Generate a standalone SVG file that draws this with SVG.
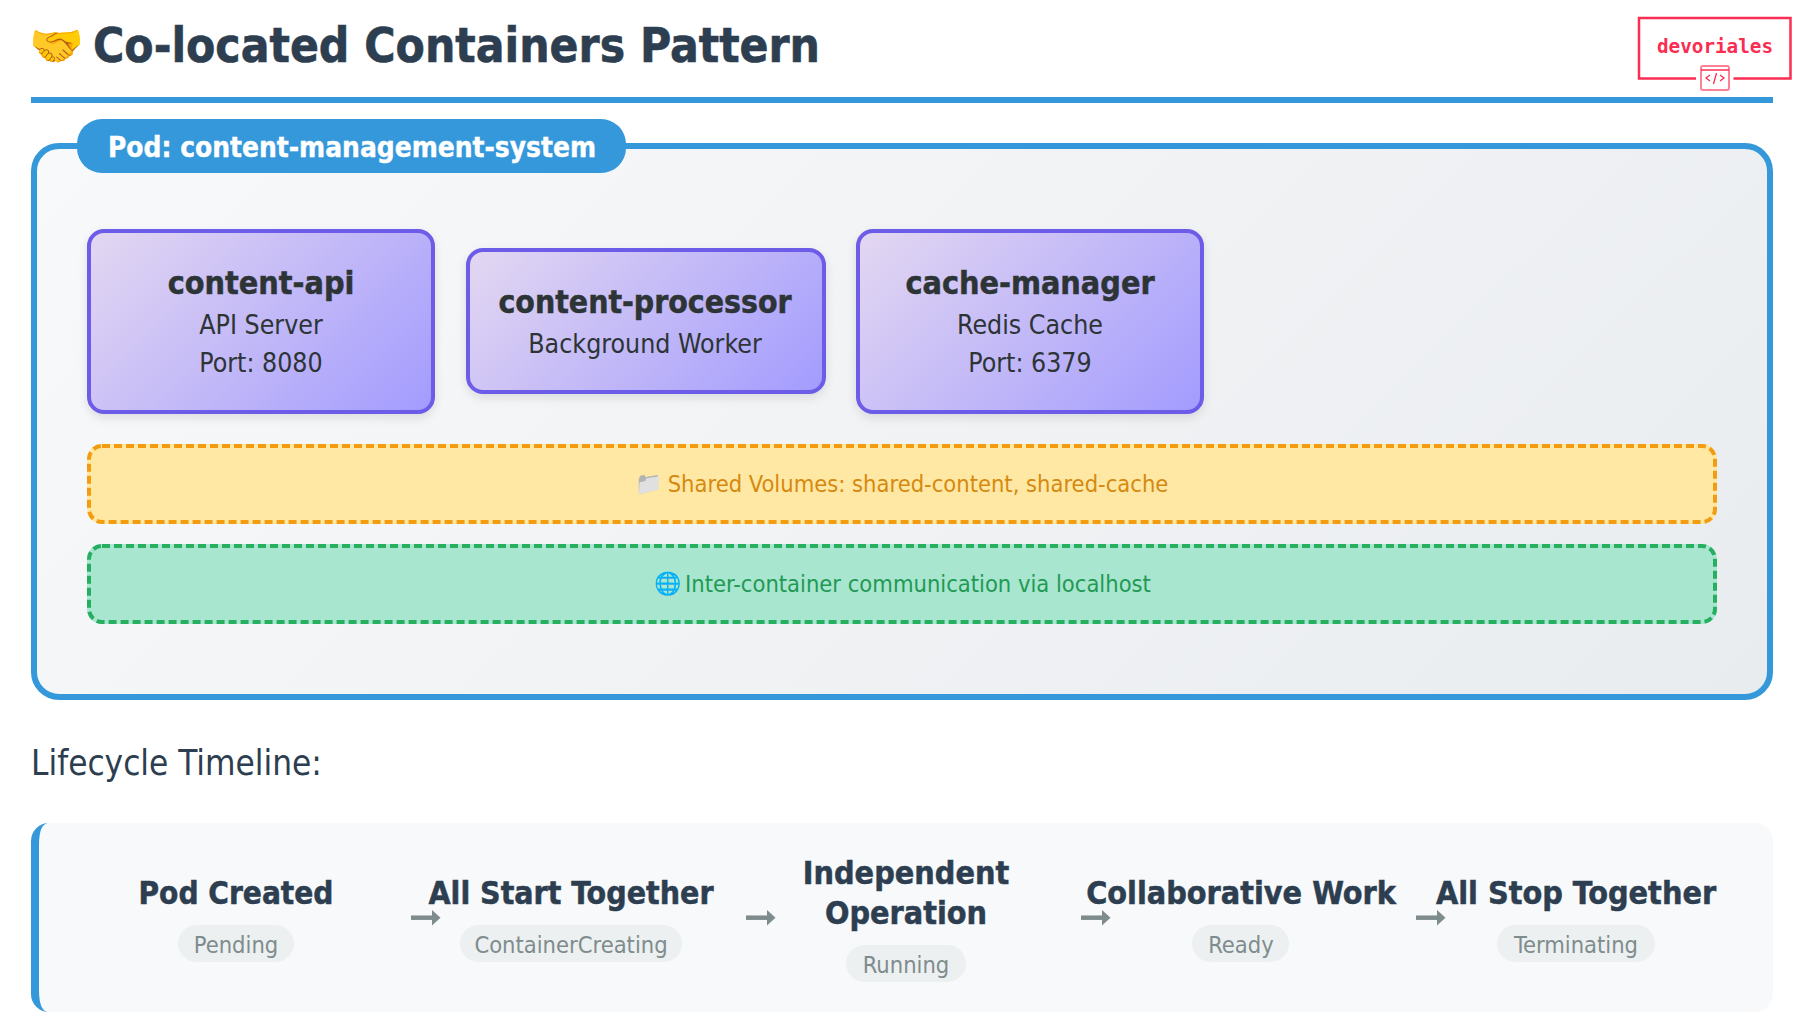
<svg xmlns="http://www.w3.org/2000/svg" width="1810" height="1034" viewBox="0 0 1810 1034">
<style>
text{font-family:"DejaVu Sans",Verdana,sans-serif;text-anchor:middle;font-stretch:condensed}
.c{stroke:#6c5ce7;stroke-width:4;filter:url(#sh)}
.n{font-size:32px;font-weight:700;fill:#2d3436;stroke:#2d3436;stroke-width:.5px}
.s{font-size:26.500px;fill:#2d3436}
.t{font-size:32px;font-weight:700;fill:#2c3e50;stroke:#2c3e50;stroke-width:.5px}
.p{fill:#ecf0f1}
.pt{font-size:23.500px;fill:#7f8c8d}
.e{font-family:"Noto Color Emoji",sans-serif;font-size:22px;text-anchor:start}
.d{fill:none;stroke-width:4;stroke-dasharray:8 4}
.l{fill:none;stroke:#7f8c8d;stroke-width:4.500;marker-end:url(#ah)}
</style>
<defs>
<linearGradient id="pg" gradientUnits="userSpaceOnUse" x1="327.500" y1="-153.500" x2="1476.500" y2="995.500"><stop offset="0" stop-color="#f8f9fa"/><stop offset="1" stop-color="#e9ecef"/></linearGradient>
<linearGradient id="cg1" gradientUnits="userSpaceOnUse" x1="128" y1="188" x2="394" y2="454"><stop offset="0" stop-color="#e4d8f1"/><stop offset="1" stop-color="#a29bfe"/></linearGradient>
<linearGradient id="cg2" gradientUnits="userSpaceOnUse" href="#cg1" x1="520" y1="194.500" x2="772" y2="446.500"/>
<linearGradient id="cg3" gradientUnits="userSpaceOnUse" href="#cg1" x1="897" y1="188" x2="1163" y2="454"/>
<filter id="sh" x="-10%" y="-10%" width="120%" height="125%"><feDropShadow dx="0" dy="4" stdDeviation="5" flood-color="#000" flood-opacity=".1"/></filter>
<marker id="ah" markerUnits="userSpaceOnUse" markerWidth="9" markerHeight="16" refX="0" refY="8" orient="auto"><path d="M0 .3L8.500 8L0 15.700Z" fill="#7f8c8d"/></marker>
</defs>
<rect width="1810" height="1034" fill="#fff"/>
<g id="header">
<text x="29" y="61" font-size="44" style="text-anchor:start;font-family:'Noto Color Emoji',sans-serif">🤝</text>
<text x="93" y="62" font-size="48" font-weight="700" fill="#2c3e50" stroke="#2c3e50" stroke-width=".6" textLength="727" lengthAdjust="spacingAndGlyphs" style="text-anchor:start">Co-located Containers Pattern</text>
<rect x="31" y="97" width="1742" height="6" fill="#3498db"/>
</g>
<g id="logo" fill="none" stroke="#fb2d52">
<path d="M1696 78.500H1639V18H1790.500V78.500H1733.500" stroke-width="2.500"/>
<rect x="1701" y="66" width="28" height="24" rx="2" stroke-opacity=".6" stroke-width="2"/>
<path d="M1701 70H1729" stroke-width="1.500"/>
<path d="M1710 75l-4 3 4 3M1720 75l4 3-4 3M1716.500 73l-3 11" stroke-width="1.300"/>
<text x="1715" y="53" font-size="19.300" font-weight="700" fill="#fb2d52" stroke="none" style="font-family:'DejaVu Sans Mono',monospace;font-stretch:normal">devoriales</text>
</g>
<g id="pod">
<rect x="34" y="146" width="1736" height="551" rx="25" fill="url(#pg)" stroke="#3498db" stroke-width="6"/>
<rect x="77" y="119" width="549" height="54" rx="25" fill="#3498db"/>
<text x="352" y="157" font-size="28" font-weight="700" fill="#fff" stroke="#fff" stroke-width=".4" textLength="488" lengthAdjust="spacingAndGlyphs">Pod: content-management-system</text>
</g>
<g id="content-api">
<rect class="c" fill="url(#cg1)" x="89" y="231" width="344" height="181" rx="15"/>
<text class="n" x="261" y="294">content-api</text><text class="s" x="261" y="334">API Server</text><text class="s" x="261" y="372">Port: 8080</text>
</g>
<g id="content-processor">
<rect class="c" fill="url(#cg2)" x="468" y="250" width="356" height="142" rx="15"/>
<text class="n" x="645" y="313" textLength="293" lengthAdjust="spacingAndGlyphs">content-processor</text><text class="s" x="645" y="353">Background Worker</text>
</g>
<g id="cache-manager">
<rect class="c" fill="url(#cg3)" x="858" y="231" width="344" height="181" rx="15"/>
<text class="n" x="1030" y="294">cache-manager</text><text class="s" x="1030" y="334">Redis Cache</text><text class="s" x="1030" y="372">Port: 6379</text>
</g>
<g id="shared-volumes">
<rect x="87" y="444" width="1630" height="80" rx="15" fill="#ffe8a3"/>
<rect class="d" x="89" y="446" width="1626" height="76" rx="13" stroke="#f39c12"/>
<text class="e" x="635" y="491" style="filter:grayscale(1)">📁</text>
<text x="918" y="491.500" font-size="23.500" fill="#d68910">Shared Volumes: shared-content, shared-cache</text>
</g>
<g id="localhost">
<rect x="87" y="544" width="1630" height="80" rx="15" fill="#a8e6cf"/>
<rect class="d" x="89" y="546" width="1626" height="76" rx="13" stroke="#27ae60"/>
<text class="e" x="654" y="591">🌐</text>
<text x="918" y="591.500" font-size="23.500" fill="#229954">Inter-container communication via localhost</text>
</g>
<text x="31" y="775" font-size="34.800" fill="#2c3e50" style="text-anchor:start">Lifecycle Timeline:</text>
<g id="timeline">
<rect x="31" y="823" width="1742" height="189" rx="18" fill="#f8f9fa"/>
<path d="M49 823A18 18 0 0 0 31 841V994A18 18 0 0 0 49 1012Q39 1012 39 990V845Q39 823 49 823Z" fill="#3498db"/>
</g>
<g id="step-1"><text class="t" x="236" y="904" textLength="195" lengthAdjust="spacingAndGlyphs">Pod Created</text><rect class="p" x="178" y="925" width="116" height="37" rx="18.500"/><text class="pt" x="236" y="953">Pending</text></g>
<g id="step-2"><text class="t" x="571" y="904" textLength="285" lengthAdjust="spacingAndGlyphs">All Start Together</text><rect class="p" x="460" y="925" width="222" height="37" rx="18.500"/><text class="pt" x="571" y="953">ContainerCreating</text></g>
<g id="step-3"><text class="t" x="906" y="884">Independent</text><text class="t" x="906" y="924">Operation</text><rect class="p" x="846" y="945" width="120" height="37" rx="18.500"/><text class="pt" x="906" y="973">Running</text></g>
<g id="step-4"><text class="t" x="1241" y="904">Collaborative Work</text><rect class="p" x="1192" y="925" width="97" height="37" rx="18.500"/><text class="pt" x="1241" y="953">Ready</text></g>
<g id="step-5"><text class="t" x="1576" y="904">All Stop Together</text><rect class="p" x="1497" y="925" width="158" height="37" rx="18.500"/><text class="pt" x="1576" y="953">Terminating</text></g>
<g id="connectors">
<path class="l" d="M411 917.700H432"/><path class="l" d="M746 917.700H767"/><path class="l" d="M1081 917.700H1102"/><path class="l" d="M1416 917.700H1437"/>
</g>
</svg>
